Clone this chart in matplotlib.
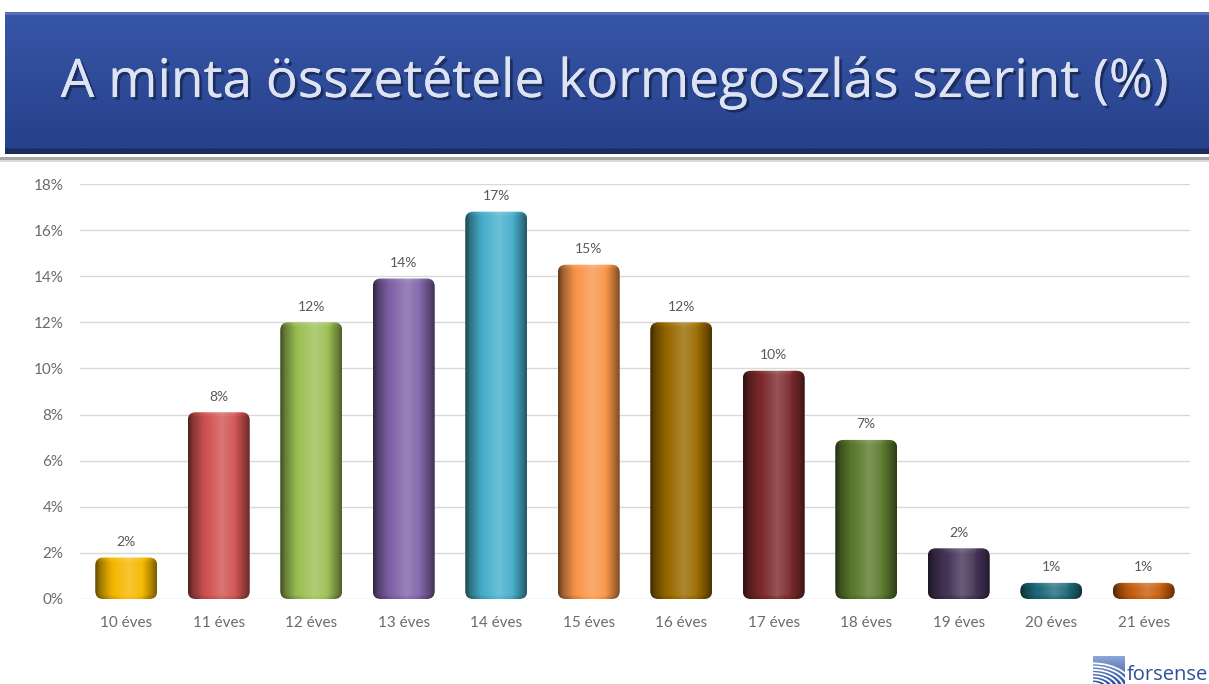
import numpy as np
import matplotlib
matplotlib.use("Agg")
import matplotlib.pyplot as plt
from matplotlib.patches import FancyBboxPatch, Rectangle, Arc
from matplotlib.colors import to_rgb
import matplotlib.patheffects as pe

# data
categories = ["10 éves", "11 éves", "12 éves", "13 éves", "14 éves", "15 éves",
              "16 éves", "17 éves", "18 éves", "19 éves", "20 éves", "21 éves"]
values = [1.8, 8.1, 12.0, 13.9, 16.8, 14.5, 12.0, 9.9, 6.9, 2.2, 0.7, 0.7]
labels = ["2%", "8%", "12%", "14%", "17%", "15%", "12%", "10%", "7%", "2%", "1%", "1%"]
colors = ["#F5B800", "#D05352", "#9DC055", "#8064A8", "#48AFCB", "#F9964A",
          "#9A6A00", "#7C2A2C", "#5C7A2E", "#463458", "#1F6A7A", "#C85E0E"]
yticks = list(range(0, 19, 2))
title = "A minta összetétele kormegoszlás szerint (%)"

W, H = 1209, 684
fig = plt.figure(figsize=(W / 100, H / 100), dpi=100)

# background layer in pixel coordinates (banner, separator, logo)
bg = fig.add_axes([0, 0, 1, 1])
bg.set_xlim(0, W)
bg.set_ylim(H, 0)
bg.axis("off")

grad = np.linspace(0, 1, 100)[:, None]
top = np.array(to_rgb("#3756A6"))
bot = np.array(to_rgb("#26408A"))
banner = top * (1 - grad[..., None]) + bot * grad[..., None]
banner = np.repeat(banner, 2, axis=1)
banner[-4:] = np.array(to_rgb("#1B2C5E"))
bg.imshow(banner, extent=(5, W, 154, 12), aspect="auto", interpolation="bilinear")
bg.add_patch(Rectangle((5, 12), W, 3, color="#5570B8", lw=0))
bg.add_patch(Rectangle((0, 157), W, 2.5, color="#A8A8A8", lw=0))
bg.add_patch(Rectangle((0, 159.5), W, 2, color="#DADADA", lw=0))

ttl = bg.text(615, 83, title, color="#DDE3F3", fontsize=40, family="Open Sans",
              ha="center", va="center",
              path_effects=[pe.withSimplePatchShadow(offset=(2, -2), shadow_rgbFace="#14224A", alpha=0.7),
                            pe.Normal()])
# fit the title to the banner width seen in the reference
rend = fig.canvas.get_renderer()
tw = ttl.get_window_extent(rend).width
ttl.set_fontsize(40 * 1106 / tw)

# forsense logo
icon = np.linspace(0, 1, 50)[:, None]
c1, c2 = np.array(to_rgb("#8EA8D6")), np.array(to_rgb("#2B4F9E"))
icon_img = np.repeat(c1 * (1 - icon[..., None]) + c2 * icon[..., None], 2, axis=1)
bg.imshow(icon_img, extent=(1093, 1125, 684, 656), aspect="auto", interpolation="bilinear")
for r in range(6, 44, 5):
    a = Arc((1093, 690), 2.0 * r, 1.3 * r, theta1=270, theta2=360,
            color="white", lw=1.3)
    bg.add_patch(a)
    a.set_clip_path(Rectangle((1093, 656), 32, 28, transform=bg.transData))
bg.text(1127, 680, "forsense", color="#2C4F9A", fontsize=14.5, family="Open Sans",
        ha="left", va="baseline")
bg.set_xlim(0, W)
bg.set_ylim(H, 0)

# chart
L, R, T, B = 80, 1190, 184, 599
ax = fig.add_axes([L / W, (H - B) / H, (R - L) / W, (B - T) / H])
ax.set_facecolor("none")
x = np.arange(len(categories))
ax.set_xlim(-0.5, len(categories) - 0.5)
ax.set_ylim(0, 18)
bars = ax.bar(x, values, width=0.67, color="none", edgecolor="none")

px_x = (R - L) / len(categories)
px_y = (B - T) / 18
rad = 8 / px_x
asp = px_x / px_y

prof_t = [0.0, 0.08, 0.25, 0.55, 0.75, 0.92, 1.0]
prof_f = [-0.6, -0.35, -0.05, 0.2, 0.05, -0.3, -0.5]
tt = np.linspace(0, 1, 80)
shade = np.interp(tt, prof_t, prof_f)

for rect, col in zip(bars, colors):
    x0, w, h = rect.get_x(), rect.get_width(), rect.get_height()
    base = np.array(to_rgb(col))
    ny = max(int(h * px_y), 4)
    img = np.zeros((ny, len(tt), 3))
    for j in range(ny):
        s = shade.copy()
        if j < 5:
            s = s + 0.12 * (5 - j) / 5
        if j > ny - 5:
            s = s - 0.15 * (j - (ny - 5)) / 5
        for k, f in enumerate(s):
            img[j, k] = base + (1 - base) * f if f > 0 else base * (1 + f)
    img = np.clip(img, 0, 1)
    patch = FancyBboxPatch((x0, 0), w, h, boxstyle=f"round,pad=0,rounding_size={rad}",
                           mutation_aspect=asp, facecolor="none", edgecolor="none",
                           transform=ax.transData)
    ax.add_patch(patch)
    im = ax.imshow(img, extent=(x0, x0 + w, 0, h), aspect="auto",
                   interpolation="bilinear", zorder=3)
    im.set_clip_path(patch)

for xi, v, lab in zip(x, values, labels):
    ax.annotate(lab, (xi, v), xytext=(0, 7), textcoords="offset points",
                ha="center", va="bottom", fontsize=10, color="#595959", family="Lato")

ax.set_xlim(-0.5, len(categories) - 0.5)
ax.set_ylim(0, 18)
ax.set_yticks(yticks)
ax.set_yticklabels([f"{t}%" for t in yticks])
ax.set_xticks(x)
ax.set_xticklabels(categories)
ax.grid(axis="y", color="#D9D9D9", lw=1)
ax.set_axisbelow(True)
for sp in ax.spines.values():
    sp.set_visible(False)
ax.tick_params(length=0, colors="#6B6B6B", labelsize=11)
ax.tick_params(axis="y", pad=12)
ax.tick_params(axis="x", pad=12)
for lbl in ax.get_xticklabels() + ax.get_yticklabels():
    lbl.set_family("Lato")

fig.savefig("out.png", dpi=100)
